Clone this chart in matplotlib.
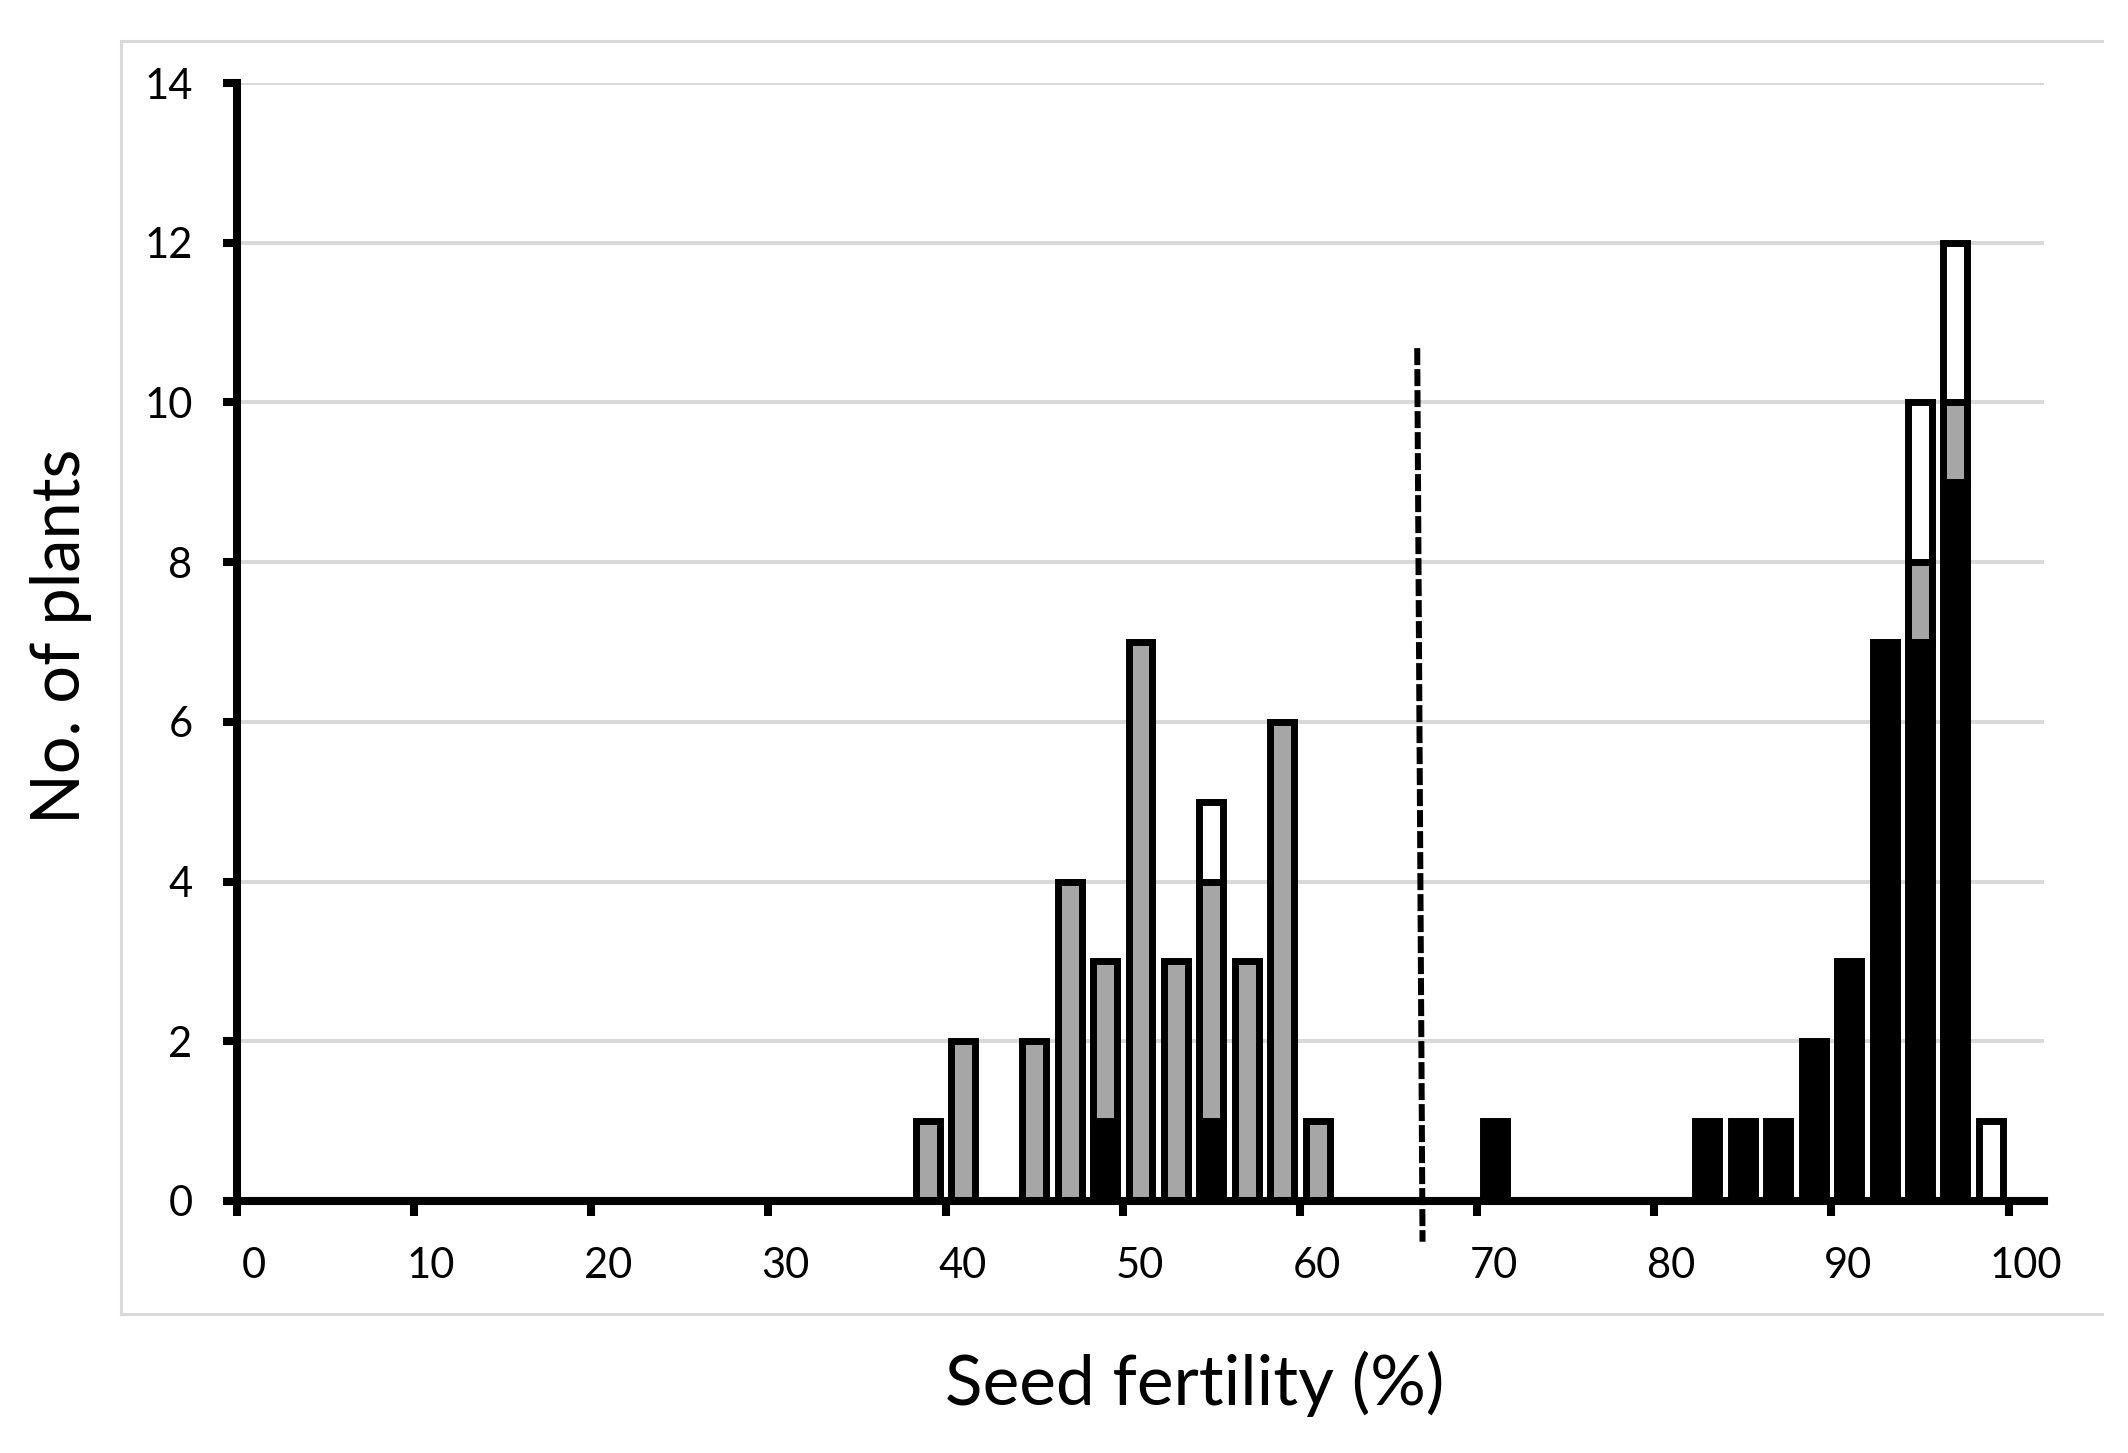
import numpy as np
import matplotlib
matplotlib.use("Agg")
import matplotlib.pyplot as plt
from matplotlib.lines import Line2D
from matplotlib.transforms import ScaledTranslation

plt.rcParams["font.family"] = ["Lato", "DejaVu Sans"]

# seed fertility bins (bin centres, %), counts per class stacked black / grey / white
bins = [39, 41, 45, 47, 49, 51, 53, 55, 57, 59, 61, 71, 83, 85, 87, 89, 91, 93, 95, 97, 99]
black = [0, 0, 0, 0, 1, 0, 0, 1, 0, 0, 0, 1, 1, 1, 1, 2, 3, 7, 7, 9, 0]
grey = [1, 2, 2, 4, 2, 7, 3, 3, 3, 6, 1, 0, 0, 0, 0, 0, 0, 0, 1, 1, 0]
white = [0, 0, 0, 0, 0, 0, 0, 1, 0, 0, 0, 0, 0, 0, 0, 0, 0, 0, 2, 2, 1]
cutoff_x = [66.62, 66.92]
cutoff_y = [10.68, -0.51]
xticks = list(range(0, 101, 10))
yticks = list(range(0, 15, 2))

DPI = 200
W, H = 2128, 1453
fig = plt.figure(figsize=(W / DPI, H / DPI), dpi=DPI)
ax = fig.add_axes([237 / W, 1 - 1201 / H, (2044 - 237) / W, (1201 - 83) / H])

x = np.array(bins, float)
b = np.array(black, float); g = np.array(grey, float); w = np.array(white, float)
BW = 1.35; ELW = 2.5
for h, bot, col in [(b, 0 * b, "black"), (g, b, "#a6a6a6"), (w, b + g, "white")]:
    m = h > 0
    ax.bar(x[m], h[m], bottom=bot[m], width=BW, color=col, edgecolor="black",
           linewidth=ELW, zorder=3)

ax.plot(cutoff_x, cutoff_y, color="black", lw=2.16, dashes=(2.83, 0.67),
        solid_capstyle="butt", dash_capstyle="butt", clip_on=False, zorder=5)

ax.set_xlim(0, 102)
ax.set_ylim(0, 14)
ax.set_xticks(xticks)
ax.set_yticks(yticks)
ax.yaxis.grid(True, color="#d9d9d9", lw=1.44, zorder=0)
ax.set_axisbelow(True)
for s in ["top", "right"]:
    ax.spines[s].set_visible(False)
for s in ["left", "bottom"]:
    ax.spines[s].set_linewidth(2.9)
    ax.spines[s].set_zorder(6)
ax.tick_params(axis="both", direction="out", width=2.9, labelsize=15, colors="black")
ax.tick_params(axis="x", length=5.4, pad=11)
ax.tick_params(axis="y", length=5.0, pad=11)
off = ScaledTranslation(17 / DPI, 0, fig.dpi_scale_trans)
for lab in ax.get_xticklabels():
    lab.set_transform(lab.get_transform() + off)

fig.text(1195 / W, 1 - 1405 / H, "Seed fertility (%)", fontsize=25,
         ha="center", va="baseline")
fig.text(80 / W, 1 - 636 / H, "No. of plants", fontsize=24, rotation=90,
         rotation_mode="anchor", ha="center", va="baseline")

# light outer chart frame (no right edge visible)
bx0, bx1, by0, by1 = 121 / W, 2102 / W, 1 - 1314 / H, 1 - 41 / H
for xs, ys in [([bx0, bx1], [by1, by1]), ([bx0, bx0], [by0, by1]), ([bx0, bx1], [by0, by0])]:
    fig.add_artist(Line2D(xs, ys, color="#d9d9d9", lw=1.1, transform=fig.transFigure))

fig.savefig("out.png", dpi=DPI)
